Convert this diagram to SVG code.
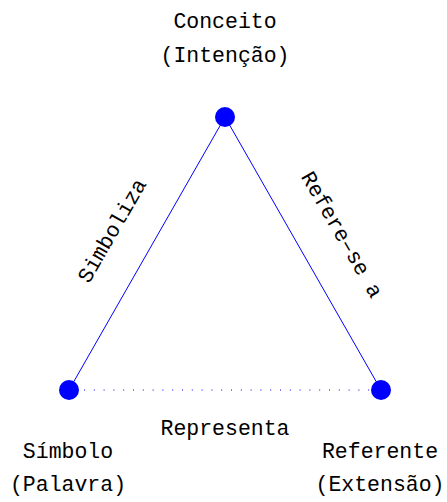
<svg xmlns="http://www.w3.org/2000/svg" width="447" height="502" viewBox="0 0 447 502">
<style>
text{font-family:"Liberation Mono","DejaVu Sans Mono",monospace;font-size:21.5px;fill:#000;text-anchor:middle}
.e{stroke:#0000ff;stroke-width:1;fill:none}
.n{fill:#0000ff}
</style>
<rect width="447" height="502" fill="#fff"/>
<g id="connectors">
<line class="e" x1="225" y1="117" x2="69" y2="390"/>
<line class="e" x1="225" y1="117" x2="381" y2="390"/>
<line class="e" x1="84" y1="390" x2="372" y2="390" stroke-dasharray="1 8.8"/>
<text transform="translate(118,234) rotate(-60)">Simboliza</text>
<text transform="translate(336,238) rotate(60)">Refere–se a</text>
<text x="225" y="435">Representa</text>
</g>
<g id="conceito">
<circle class="n" cx="225" cy="117" r="10"/>
<text x="225" y="28">Conceito</text>
<text x="225" y="62">(Intenção)</text>
</g>
<g id="simbolo">
<circle class="n" cx="69" cy="390" r="10"/>
<text x="68" y="458">Símbolo</text>
<text x="68" y="491">(Palavra)</text>
</g>
<g id="referente">
<circle class="n" cx="381" cy="390" r="10"/>
<text x="380" y="458">Referente</text>
<text x="380" y="491">(Extensão)</text>
</g>
</svg>
